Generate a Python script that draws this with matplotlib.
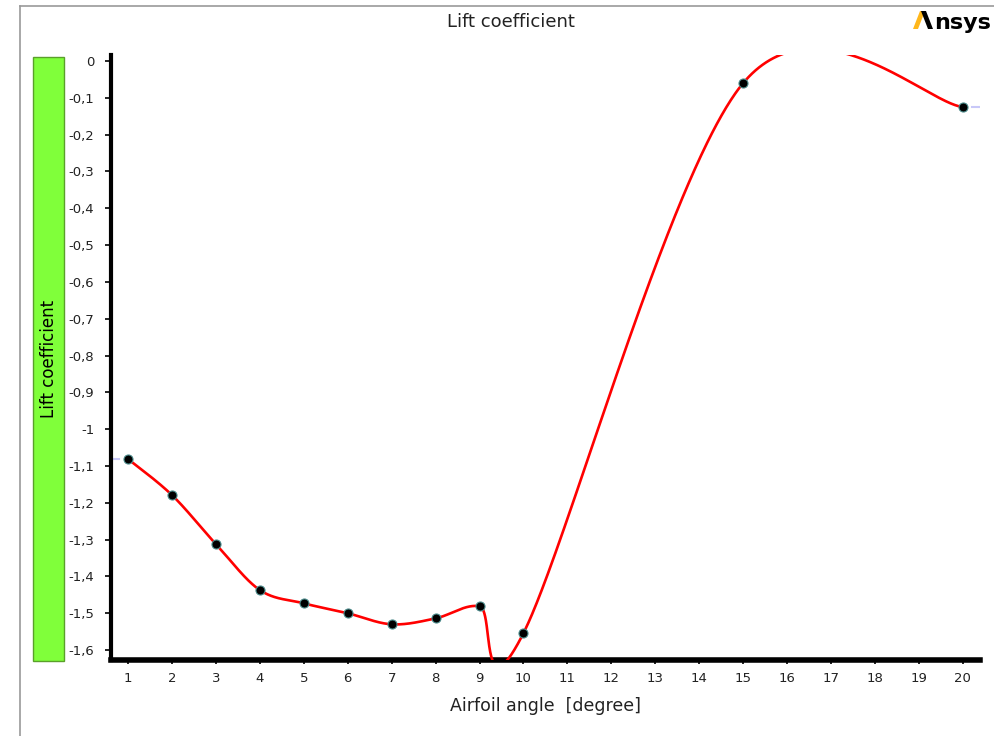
import numpy as np
import matplotlib
matplotlib.use("Agg")
import matplotlib.pyplot as plt
from matplotlib.patches import Rectangle, Polygon
from matplotlib.ticker import FuncFormatter

# ---- data ----
angles = [1, 2, 3, 4, 5, 6, 7, 8, 9, 10, 15, 20]
lift = [-1.081, -1.179, -1.312, -1.437, -1.473, -1.500, -1.530, -1.514, -1.481, -1.554, -0.060, -0.125]
x_ticks = list(range(1, 21))
y_ticks = [0, -0.1, -0.2, -0.3, -0.4, -0.5, -0.6, -0.7, -0.8, -0.9, -1.0, -1.1, -1.2, -1.3, -1.4, -1.5, -1.6]
title = "Lift coefficient"
xlabel = "Airfoil angle  [degree]"
ylabel = "Lift coefficient"


def catmull_rom(xp, yp, steps=200):
    """Uniform Catmull-Rom spline through the points (endpoints duplicated)."""
    P = np.column_stack([xp, yp]).astype(float)
    n = len(P)
    out = []
    t = np.linspace(0, 1, steps)
    h00 = 2 * t ** 3 - 3 * t ** 2 + 1
    h10 = t ** 3 - 2 * t ** 2 + t
    h01 = -2 * t ** 3 + 3 * t ** 2
    h11 = t ** 3 - t ** 2
    for i in range(n - 1):
        p0, p1 = P[i], P[i + 1]
        m0 = (P[min(i + 1, n - 1)] - P[max(i - 1, 0)]) / 2
        m1 = (P[min(i + 2, n - 1)] - P[i]) / 2
        seg = (h00[:, None] * p0 + h10[:, None] * m0 + h01[:, None] * p1 + h11[:, None] * m1)
        out.append(seg)
    seg = np.vstack(out)
    return seg[:, 0], seg[:, 1]


fig = plt.figure(figsize=(9.94, 7.36), dpi=100)
fig.patch.set_facecolor("white")

fig.add_artist(plt.Line2D([20 / 994, 20 / 994], [0, 1 - 6 / 736], color="#9a9a9a", lw=1.2))
fig.add_artist(plt.Line2D([20 / 994, 1], [1 - 6 / 736, 1 - 6 / 736], color="#9a9a9a", lw=1.2))

fig.add_artist(Rectangle((33 / 994, 1 - 661 / 736), 31 / 994, 604 / 736,
                         transform=fig.transFigure, facecolor="#80ff3a",
                         edgecolor="#5aa02a", lw=1))
fig.text(48.5 / 994, 1 - 359 / 736, ylabel, rotation=90, ha="center", va="center",
         fontsize=12, color="black")

ax = fig.add_axes([111 / 994, 1 - 660 / 736, (980 - 111) / 994, (660 - 55) / 736])
ax.set_xlim(0.613, 20.39)
ax.set_ylim(-1.627, 0.0163)

xs, ys = catmull_rom(angles, lift)
ax.plot(xs, ys, color="#ff0000", lw=1.9, zorder=3)
ax.plot([0.613, angles[0] - 0.2], [lift[0], lift[0]], color="#c8c8f8", lw=1.5, zorder=2)
ax.plot([angles[-1] + 0.2, 20.39], [lift[-1], lift[-1]], color="#c8c8f8", lw=1.5, zorder=2)
ax.plot(angles, lift, "o", color="black", markersize=6.5, markeredgecolor="#4a8a8a",
        markeredgewidth=0.8, zorder=4)

ax.set_xticks(x_ticks)
ax.set_yticks(y_ticks)
ax.yaxis.set_major_formatter(FuncFormatter(lambda v, p: ("%g" % round(v, 1)).replace(".", ",") if abs(v) > 1e-9 else "0"))
ax.tick_params(axis="both", labelsize=9.5, colors="black", labelcolor="#222222")
ax.tick_params(axis="y", length=4, width=1.2, pad=8)
ax.tick_params(axis="x", length=3, width=1.2, pad=6)
for s in ["top", "right"]:
    ax.spines[s].set_visible(False)
ax.spines["left"].set_linewidth(3)
ax.spines["bottom"].set_linewidth(4)
ax.set_xlabel(xlabel, fontsize=12.5, color="#222222", labelpad=8)

fig.text(511 / 994, 1 - 22 / 736, title, ha="center", va="center", fontsize=13, color="#222222")


def fx(p):
    return p / 994


def fy(p):
    return 1 - p / 736


fig.add_artist(Polygon([[fx(913), fy(29)], [fx(918), fy(29)], [fx(925), fy(11)], [fx(920), fy(11)]],
                       closed=True, transform=fig.transFigure, facecolor="#ffb71b",
                       edgecolor="none", zorder=10))
fig.add_artist(Polygon([[fx(921), fy(11)], [fx(926), fy(11)], [fx(933), fy(29)], [fx(928), fy(29)]],
                       closed=True, transform=fig.transFigure, facecolor="black",
                       edgecolor="none", zorder=10))
fig.text(fx(991), fy(29), "nsys", ha="right", va="baseline", fontsize=16,
         fontweight="bold", color="black")

fig.savefig("out.png", dpi=100)
